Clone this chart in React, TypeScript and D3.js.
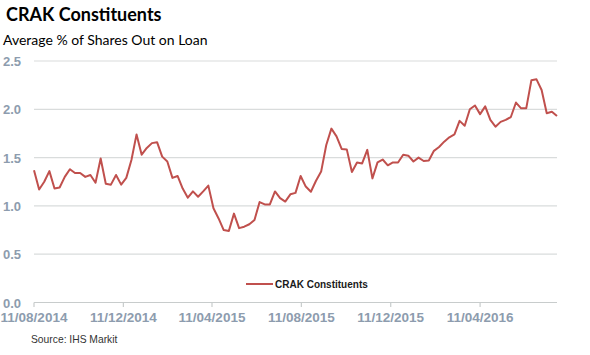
import React from "react";
import * as d3 from "d3";

const startDate = "2014-08-11";
const values: number[] = [
  1.37, 1.17, 1.25, 1.36, 1.18, 1.19, 1.3, 1.38, 1.34, 1.34,
  1.3, 1.32, 1.24, 1.49, 1.23, 1.22, 1.32, 1.22, 1.29, 1.475,
  1.74, 1.53, 1.6, 1.65, 1.66, 1.51, 1.46, 1.29, 1.31, 1.18,
  1.085, 1.15, 1.095, 1.15, 1.21, 0.975, 0.87, 0.75, 0.74, 0.92,
  0.77, 0.785, 0.81, 0.855, 1.04, 1.015, 1.015, 1.15, 1.08, 1.045,
  1.12, 1.135, 1.31, 1.2, 1.147, 1.26, 1.355, 1.63, 1.8, 1.72,
  1.59, 1.585, 1.35, 1.45, 1.44, 1.58, 1.285, 1.45, 1.48, 1.42,
  1.45, 1.45, 1.53, 1.52, 1.46, 1.5, 1.465, 1.47, 1.57, 1.61,
  1.665, 1.71, 1.74, 1.88, 1.83, 2.0, 2.04, 1.95, 2.03, 1.89,
  1.82, 1.87, 1.89, 1.92, 2.07, 2.01, 2.01, 2.3, 2.31, 2.2,
  1.96, 1.975, 1.93,
];
const xTickDates = ["2014-08-11", "2014-12-11", "2015-04-11", "2015-08-11", "2015-12-11", "2016-04-11"];
const yTicks = [0, 0.5, 1.0, 1.5, 2.0, 2.5];
const title = "CRAK Constituents";
const subtitle = "Average % of Shares Out on Loan";
const seriesName = "CRAK Constituents";
const source = "Source: IHS Markit";

const parse = d3.utcParse("%Y-%m-%d");
const fmt = d3.utcFormat("%d/%m/%Y");

export default function App() {
  const W = 590, H = 355;
  const left = 34, right = 557, top = 61, bottom = 302.5;
  const start = parse(startDate)!;
  const data = values.map((v, i) => ({ date: d3.utcDay.offset(start, i * 7), v }));
  const x = d3.scaleUtc().domain([start, data[data.length - 1].date]).range([left, right]);
  const y = d3.scaleLinear().domain([0, 2.5]).range([bottom, top]);
  const line = d3.line<{ date: Date; v: number }>().x(d => x(d.date)).y(d => y(d.v));
  const tickFont = "'Liberation Sans', Arial, sans-serif";
  const tickColor = "#8d9cae";
  return (
    <svg width={W} height={H} style={{ position: "absolute", left: 0, top: 0, background: "#fff" }}>
      <text x={6} y={21} fontFamily="Lato, 'Open Sans', sans-serif" fontWeight="bold" fontSize={18} fill="#000">{title}</text>
      <text x={3} y={45} fontFamily="Lato, 'Open Sans', sans-serif" fontSize={14} fill="#000">{subtitle}</text>
      {yTicks.map(t => (
        <g key={t}>
          {t > 0 && <line x1={left} x2={right} y1={y(t)} y2={y(t)} stroke="#d9dcdc" strokeWidth={1.2} />}
          <text x={3} y={y(t) + 5} fontFamily={tickFont} fontWeight="bold" fontSize={13} fill={tickColor}>{t.toFixed(1)}</text>
        </g>
      ))}
      <line x1={left} x2={right} y1={bottom} y2={bottom} stroke="#c8cccc" strokeWidth={1.2} />
      {xTickDates.map(s => {
        const d = parse(s)!;
        const xx = x(d);
        return (
          <g key={s}>
            <line x1={xx} x2={xx} y1={bottom} y2={bottom + 4.5} stroke="#c8cccc" strokeWidth={1.2} />
            <text x={xx} y={322} textAnchor="middle" fontFamily={tickFont} fontWeight="bold" fontSize={13.5} fill={tickColor}>{fmt(d)}</text>
          </g>
        );
      })}
      <path d={line(data)!} fill="none" stroke="#c0504d" strokeWidth={2} strokeLinejoin="round" />
      <line x1={246} x2={273} y1={284} y2={284} stroke="#c0504d" strokeWidth={2} />
      <text x={275} y={288} fontFamily={tickFont} fontWeight="bold" fontSize={10} fill="#1a1a1a">{seriesName}</text>
      <text x={31} y={343} fontFamily={tickFont} fontSize={10.3} fill="#333">{source}</text>
    </svg>
  );
}
